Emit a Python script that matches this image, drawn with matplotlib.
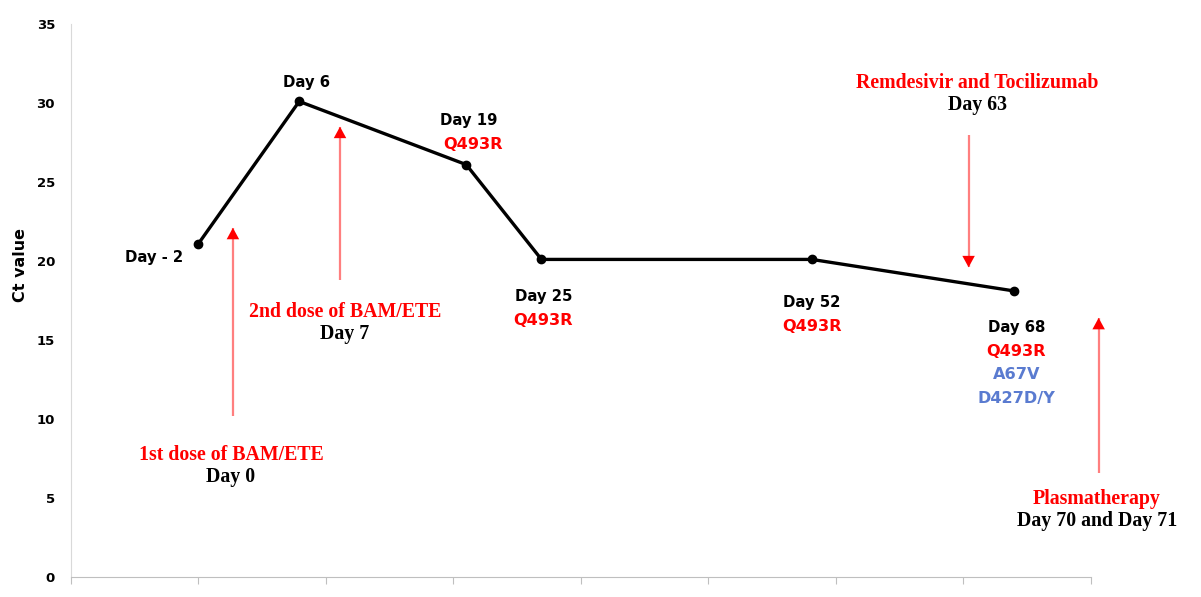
import matplotlib
matplotlib.use('Agg')
import matplotlib.pyplot as plt

# sample points (x positions on the category-like axis, Ct values)
xpos = [1.0, 1.79, 3.1, 3.69, 5.81, 7.40]
ct = [21.1, 30.1, 26.1, 20.1, 20.1, 18.1]
day_labels = ['Day - 2', 'Day 6', 'Day 19', 'Day 25', 'Day 52', 'Day 68']
mutations = [[], [], ['Q493R'], ['Q493R'], ['Q493R'], ['Q493R', 'A67V', 'D427D/Y']]

# treatments: arrow x, arrow start y, arrow end y, label, day
treat_x = [1.27, 2.11, 7.04, 8.06]
treat_y0 = [10.2, 18.8, 28.0, 6.6]
treat_y1 = [22.1, 28.5, 19.6, 16.4]
treat_names = ['1st dose of BAM/ETE', '2nd dose of BAM/ETE', 'Remdesivir and Tocilizumab', 'Plasmatherapy']
treat_days = ['Day 0', 'Day 7', 'Day 63', 'Day 70 and Day 71']

RED = '#FF0000'
BLUE = '#5A7BD0'

fig = plt.figure(figsize=(12.01, 5.97), dpi=100)
ax = fig.add_axes([0.0591, 0.0335, 0.8493, 0.9263])

ax.plot(xpos, ct, '-', color='black', lw=2.4, marker='o', ms=6, zorder=3)

ax.set_xlim(0, 8)
ax.set_ylim(0, 35)
ax.set_yticks(range(0, 36, 5))
ax.set_xticks(range(0, 9))
ax.set_xticklabels([])
ax.tick_params(axis='y', length=0, pad=11.5, labelsize=9.5)
ax.tick_params(axis='x', length=5, color='#BFBFBF', direction='out')
for lab in ax.get_yticklabels():
    lab.set_fontweight('bold')
for s in ['top', 'right']:
    ax.spines[s].set_visible(False)
ax.spines['left'].set_color('#D9D9D9')
ax.spines['bottom'].set_color('#BFBFBF')
ax.set_ylabel('Ct value', fontsize=11.5, fontweight='bold')
ax.yaxis.set_label_coords(-0.042, 0.565)

day_font = dict(fontsize=10.7, fontweight='bold', ha='center', va='center', family='DejaVu Sans')
mut_font = dict(fontsize=11.6, fontweight='bold', ha='center', va='center', family='DejaVu Sans')

# day labels: offsets in pixels (dx, dy) relative to the marker
offsets = [(-44, -14), (7, 19), (3, 44), (2, -37), (0, -43), (2, -36)]
for x, y, lab, muts, (dx, dy) in zip(xpos, ct, day_labels, mutations, offsets):
    ax.annotate(lab, (x, y), xytext=(dx, dy), textcoords='offset pixels', color='black', **day_font)
    for i, m in enumerate(muts):
        col = RED if m == 'Q493R' else BLUE
        off = dy - 24 - 23.5 * i
        ddx = dx + 4 if lab == 'Day 19' else dx
        ax.annotate(m, (x, y), xytext=(ddx, off), textcoords='offset pixels', color=col, **mut_font)

serif = dict(fontsize=14.3, fontweight='bold', ha='center', va='center', family='Liberation Serif')

# label positions (x, y in data units)
name_pos = [(1.255, 7.72), (2.149, 16.77), (7.106, 31.27), (8.047, 4.94)]
for x, y0, y1, name, day, (lx, ly) in zip(treat_x, treat_y0, treat_y1, treat_names, treat_days, name_pos):
    # light red shaft, solid red head
    ax.plot([x, x], [y0, y1], color='#FF7F7F', lw=1.6, clip_on=False, solid_capstyle='butt')
    sign = 1 if y1 > y0 else -1
    ax.annotate('', xy=(x, y1), xytext=(x, y1 - sign * 0.8),
                arrowprops=dict(arrowstyle='-|>,head_length=0.55,head_width=0.3', color=RED, lw=0,
                                mutation_scale=15, shrinkA=0, shrinkB=0), annotation_clip=False)
    ax.text(lx, ly, name, color=RED, clip_on=False, **serif)
    ax.text(lx, ly - 1.42, day, color='black', clip_on=False, **serif)

fig.savefig('out.png', dpi=100)
